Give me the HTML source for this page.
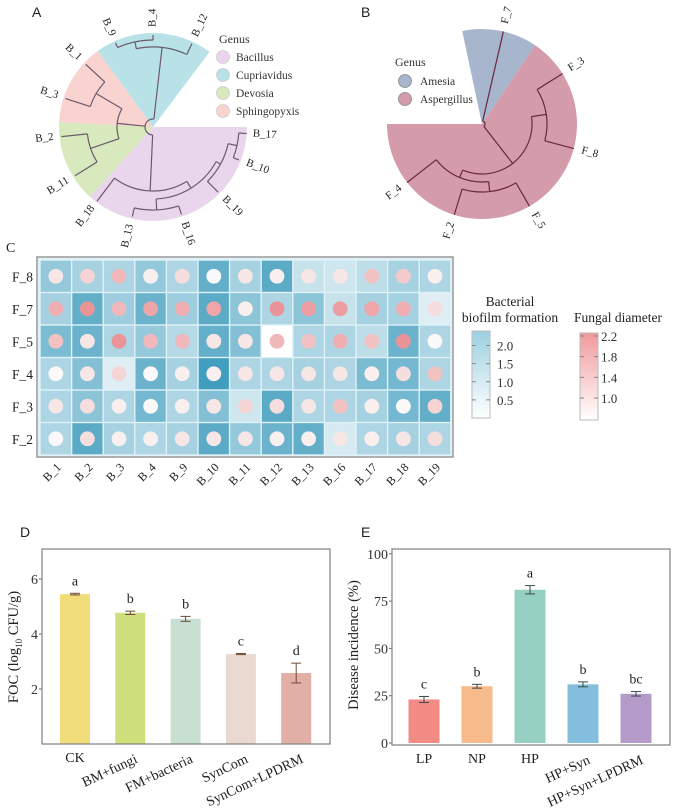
<!DOCTYPE html>
<html><head><meta charset="utf-8">
<style>
html,body{margin:0;padding:0;background:#fff;}
svg{display:block;font-family:"Liberation Serif",serif;}
.sans{font-family:"Liberation Sans",sans-serif;}
</style></head>
<body>
<svg id="fig" width="692" height="811" viewBox="0 0 692 811" xmlns="http://www.w3.org/2000/svg">
<g id="pA"></g>
<g id="pB"></g>
<g id="pC"></g>
<g id="pD"></g>
<g id="pE"></g>
</svg>
<script>
// ---------- DATA ----------
const heatRows = ["F_8","F_7","F_5","F_4","F_3","F_2"];
const heatCols = ["B_1","B_2","B_3","B_4","B_9","B_10","B_11","B_12","B_13","B_16","B_17","B_18","B_19"];
const biofilm = [
 [1.3,1.1,1.0,1.3,1.0,1.9,1.1,2.0,0.7,0.6,0.8,1.1,1.0],
 [1.1,1.9,1.2,1.8,1.2,2.0,1.4,1.0,1.4,0.7,1.1,1.1,0.4],
 [1.6,1.8,1.0,1.3,0.9,1.9,1.5,0.0,1.0,1.0,0.8,1.8,1.0],
 [1.0,1.5,0.4,1.8,1.1,2.3,1.0,1.0,1.1,1.0,1.6,1.7,1.0],
 [1.0,1.4,1.0,1.7,1.0,1.5,0.6,2.0,1.0,1.0,1.1,1.7,1.9],
 [1.0,2.0,1.1,1.0,1.1,2.0,1.3,1.8,1.9,0.5,1.0,1.1,1.0]];
const fungal = [
 [1.1,1.3,1.6,1.0,1.2,0.9,1.1,1.0,1.1,1.1,1.5,1.4,1.0],
 [1.7,2.0,1.6,1.8,1.7,1.8,1.0,2.0,1.9,1.9,1.8,1.7,1.2],
 [1.5,1.1,2.0,1.6,1.6,1.1,1.1,1.6,1.5,1.7,1.5,2.0,0.9],
 [0.9,1.1,1.3,0.9,1.0,1.0,1.1,1.1,1.1,1.1,1.0,1.2,1.5],
 [1.1,1.2,1.0,0.9,1.0,1.1,1.3,1.2,1.1,1.5,1.0,0.9,1.3],
 [0.9,1.2,1.0,1.0,1.1,1.1,1.1,1.0,1.0,1.1,1.0,1.1,1.2]];
const biofilmTicks = [2.0,1.5,1.0,0.5];
const fungalTicks = [2.2,1.8,1.4,1.0];

const dCats = ["CK","BM+fungi","FM+bacteria","SynCom","SynCom+LPDRM"];
const dVals = [5.45,4.77,4.55,3.27,2.58];
const dErr = [0.03,0.06,0.09,0.02,0.36];
const dLetters = ["a","b","b","c","d"];
const dTicks = [2,4,6];

const eCats = ["LP","NP","HP","HP+Syn","HP+Syn+LPDRM"];
const eVals = [23,30,81,31,26];
const eErr = [1.6,1.0,2.2,1.3,1.2];
const eLetters = ["c","b","a","b","bc"];
const eTicks = [0,25,50,75,100];

// ---------- helpers ----------
const NS="http://www.w3.org/2000/svg";
function mk(parent,tag,attrs,txt){const e=document.createElementNS(NS,tag);for(const k in attrs)e.setAttribute(k,attrs[k]);if(txt!==undefined)e.textContent=txt;parent.appendChild(e);return e;}
function pt(cx,cy,r,a){const t=a*Math.PI/180;return [cx+r*Math.cos(t),cy+r*Math.sin(t)];}
function sector(cx,cy,r,a1,a2){const p1=pt(cx,cy,r,a1),p2=pt(cx,cy,r,a2);const large=(a2-a1)>180?1:0;return `M${cx},${cy} L${p1[0]},${p1[1]} A${r},${r} 0 ${large} 1 ${p2[0]},${p2[1]} Z`;}
function arc(cx,cy,r,a1,a2){const p1=pt(cx,cy,r,a1),p2=pt(cx,cy,r,a2);const large=(a2-a1)>180?1:0;return `M${p1[0]},${p1[1]} A${r},${r} 0 ${large} 1 ${p2[0]},${p2[1]}`;}
function lerpC(c1,c2,t){t=Math.max(0,Math.min(1,t));const r=Math.round(c1[0]+(c2[0]-c1[0])*t),g=Math.round(c1[1]+(c2[1]-c1[1])*t),b=Math.round(c1[2]+(c2[2]-c1[2])*t);return `rgb(${r},${g},${b})`;}

// ---------- dendrogram ----------
function nodeAngle(n){if(n.leaf)return n.a;const as=n.c.map(nodeAngle);return (Math.min(...as)+Math.max(...as))/2;}
function drawTree(g,cx,cy,n,col){
  if(n.leaf)return;
  const as=n.c.map(nodeAngle);
  const p=mk(g,"path",{d:arc(cx,cy,n.h,Math.min(...as),Math.max(...as)),fill:"none",stroke:col,"stroke-width":1.2});
  
  
  n.c.forEach((ch,i)=>{const r2=ch.leaf?ch.r:ch.h;const a=as[i];const p1=pt(cx,cy,n.h,a),p2=pt(cx,cy,r2,a);
    const l=mk(g,"line",{x1:p1[0],y1:p1[1],x2:p2[0],y2:p2[1],stroke:col,"stroke-width":1.2});
    
    
    drawTree(g,cx,cy,ch,col);});
}
function leafLabels(g,cx,cy,n,rr){
  if(n.leaf){const p=pt(cx,cy,rr,n.a);let rot=n.a;let anchor="start";let aa=((n.a%360)+360)%360;if(aa>90&&aa<270){rot=aa+180;anchor="end";}
    const t=mk(g,"text",{x:p[0],y:p[1],"font-size":11,"text-anchor":anchor,"dominant-baseline":"middle",transform:`rotate(${rot},${p[0]},${p[1]})`,fill:"#222"},n.name);
    
    return;}
  n.c.forEach(c=>leafLabels(g,cx,cy,c,rr));
}
const L=(name,a,r)=>({leaf:true,name,a,r:r||92});

// Panel A
(function(){
  const g=document.getElementById("pA");const cx=153,cy=127,R=94;
  const secs=[[0,132,"#ead6ec","sector-bacillus"],[132,183,"#d8e9bd","sector-devosia"],[183,234,"#f9d3cf","sector-sphingopyxis"],[234,307,"#b8e2e7","sector-cupriavidus"]];
  secs.forEach(s=>{const p=mk(g,"path",{d:sector(cx,cy,R,s[0],s[1]),fill:s[2]});});
  const tree={h:8,c:[
    {h:64,c:[L("B_18",127,93),{h:72,c:[{h:83,c:[L("B_13",103),L("B_16",72)]},{h:77,c:[L("B_19",45),{h:86,c:[L("B_10",21),L("B_17",4,94)]}]}]}]},
    {h:36,c:[{h:66,c:[L("B_11",148),L("B_2",174)]},{h:66,c:[L("B_3",198),L("B_1",223)]}]},
    {h:80,c:[{h:87,c:[L("B_9",246),L("B_4",270)]},L("B_12",295)]}
  ]};
  drawTree(g,cx,cy,tree,"#6a5a6a");
  leafLabels(g,cx,cy,tree,100);
  const t=mk(g,"text",{x:32,y:17,"font-size":14,class:"sans",fill:"#222"},"A");
  mk(g,"text",{x:219,y:43,"font-size":12,fill:"#333"},"Genus");
  const gen=[["Bacillus","#ead6ec"],["Cupriavidus","#b8e2e7"],["Devosia","#d8e9bd"],["Sphingopyxis","#f9d3cf"]];
  gen.forEach((d,i)=>{const y=57+i*18;const c=mk(g,"circle",{cx:223,cy:y,r:6.5,fill:d[1],stroke:"#ccc","stroke-width":0.8});
    const tx=mk(g,"text",{x:236,y:y+4,"font-size":11.5,fill:"#333"},d[0]);});
})();

// Panel B
(function(){
  const g=document.getElementById("pB");const cx=482,cy=124,R=95;
  const p1=mk(g,"path",{d:sector(cx,cy,R,258,304),fill:"#a7b5cd"});
  const p2=mk(g,"path",{d:sector(cx,cy,R,304,540),fill:"#d49bab"});
  const tree={h:3,c:[L("F_7",283,95),{h:50,c:[{h:65,c:[L("F_3",328,95),L("F_8",375,95)]},{h:58,c:[{h:68,c:[L("F_5",420,95),L("F_2",467,95)]},L("F_4",502,95)]}]}]};
  drawTree(g,cx,cy,tree,"#6b2840");
  leafLabels(g,cx,cy,tree,103);
  const t=mk(g,"text",{x:361,y:17,"font-size":14,class:"sans",fill:"#222"},"B");
  mk(g,"text",{x:395,y:66,"font-size":12,fill:"#333"},"Genus");
  [["Amesia","#a7b5cd"],["Aspergillus","#d49bab"]].forEach((d,i)=>{const y=81+i*18;const c=mk(g,"circle",{cx:405,cy:y,r:6.5,fill:d[1],stroke:"#888","stroke-width":0.8});
    const tx=mk(g,"text",{x:420,y:y+4,"font-size":11.5,fill:"#333"},d[0]);});
})();

// Panel C heatmap
(function(){
  const g=document.getElementById("pC");
  const x0=40,y0=260,cw=31.6,ch=32.5;
  const blueHi=[58,154,188],white=[255,255,255],redHi=[232,130,134];
  const t=mk(g,"text",{x:6,y:252,"font-size":14,fill:"#222"},"C");
  mk(g,"rect",{x:37,y:257,width:416,height:200,fill:"#e0f2f8",stroke:"#999","stroke-width":1.5});
  heatRows.forEach((rn,i)=>{
    const ry=y0+i*ch;
    const lab=mk(g,"text",{x:33,y:ry+ch/2+5,"font-size":13.5,"text-anchor":"end",fill:"#222"},rn);
    
    heatCols.forEach((cn,j)=>{
      const cxp=x0+j*cw;
      const r=mk(g,"rect",{x:cxp+0.7,y:ry+0.7,width:cw-1.4,height:ch-1.4,fill:lerpC(white,blueHi,biofilm[i][j]/2.4)});
      
      const c=mk(g,"circle",{cx:cxp+cw/2,cy:ry+ch/2,r:7.4,fill:lerpC([250,248,248],redHi,(fungal[i][j]-0.9)/1.3)});
      
    });
  });
  heatCols.forEach((cn,j)=>{const x=x0+j*cw+cw/2+6,y=468;
    const tl=mk(g,"text",{x:x,y:y,"font-size":12,"text-anchor":"end",transform:`rotate(-45,${x},${y})`,fill:"#222"},cn);
    });
  mk(g,"defs",{}).innerHTML='<linearGradient id="gb" x1="0" y1="0" x2="0" y2="1"><stop offset="0" stop-color="#9bcfe0"/><stop offset="1" stop-color="#ffffff"/></linearGradient><linearGradient id="gr" x1="0" y1="0" x2="0" y2="1"><stop offset="0" stop-color="#f0999c"/><stop offset="1" stop-color="#ffffff"/></linearGradient>';
  mk(g,"text",{x:510,y:306,"font-size":13.5,"text-anchor":"middle",fill:"#222"},"Bacterial");
  mk(g,"text",{x:510,y:322,"font-size":13.5,"text-anchor":"middle",fill:"#222"},"biofilm formation");
  mk(g,"rect",{x:472,y:331,width:18,height:87,fill:"url(#gb)",stroke:"#bbb"});
  const by=v=>418-(v/2.4)*87;
  biofilmTicks.forEach(v=>{const y=by(v);mk(g,"line",{x1:486,x2:490,y1:y,y2:y,stroke:"#888"});mk(g,"line",{x1:472,x2:476,y1:y,y2:y,stroke:"#888"});
    mk(g,"text",{x:497,y:y+5,"font-size":13,fill:"#333"},v.toFixed(1));});
  mk(g,"text",{x:618,y:322,"font-size":13.5,"text-anchor":"middle",fill:"#222"},"Fungal diameter");
  mk(g,"rect",{x:580,y:333,width:18,height:87,fill:"url(#gr)",stroke:"#bbb"});
  const fy=v=>336+(2.2-v)/1.2*62;
  fungalTicks.forEach(v=>{const y=fy(v);mk(g,"line",{x1:594,x2:598,y1:y,y2:y,stroke:"#888"});mk(g,"line",{x1:580,x2:584,y1:y,y2:y,stroke:"#888"});
    mk(g,"text",{x:601,y:y+5,"font-size":13,fill:"#333"},v.toFixed(1));});
})();

// Bar charts
function barChart(gid,o){
  const g=document.getElementById(gid);
  const sy=v=>o.y0-(v-0)*o.k;
  const lt=mk(g,"text",{x:o.labX,y:o.labY,"font-size":14,class:"sans",fill:"#222"},o.label);
  o.cats.forEach((c,i)=>{
    const cx=o.cx0+i*o.step, v=o.vals[i], e=o.err[i];
    const b=mk(g,"rect",{x:cx-o.bw/2,y:sy(v),width:o.bw,height:o.y0-sy(v),fill:o.colors[i]});
    
    const ec=o.ecol;
    mk(g,"line",{x1:cx,x2:cx,y1:sy(v+e),y2:sy(v-e),stroke:ec,"stroke-width":1});
    mk(g,"line",{x1:cx-5,x2:cx+5,y1:sy(v+e),y2:sy(v+e),stroke:ec,"stroke-width":1});
    mk(g,"line",{x1:cx-5,x2:cx+5,y1:sy(v-e),y2:sy(v-e),stroke:ec,"stroke-width":1});
    const lt2=mk(g,"text",{x:cx,y:sy(v+e)-8,"font-size":14,"text-anchor":"middle",fill:"#222"},o.letters[i]);
    
    const rot=o.rot[i];const tx=cx+(rot?8:0),ty=o.yBot+18;
    const xl=mk(g,"text",{x:tx,y:ty,"font-size":14,"text-anchor":rot?"end":"middle",transform:rot?`rotate(${rot},${tx},${ty})`:"",fill:"#222"},c);
    
  });
  o.ticks.forEach(v=>{const y=sy(v);mk(g,"line",{x1:o.x1,x2:o.x1-3,y1:y,y2:y,stroke:"#666"});
    const t=mk(g,"text",{x:o.x1-4,y:y+5,"font-size":14,"text-anchor":"end",fill:"#333"},String(v));});
  const fr=mk(g,"rect",{x:o.x1,y:o.yTop,width:o.x2-o.x1,height:o.yBot-o.yTop,fill:"none",stroke:"#888","stroke-width":1.3});
  
  const yt=mk(g,"text",{x:o.ytX,y:o.ytY,"font-size":14.5,"text-anchor":"middle",transform:`rotate(-90,${o.ytX},${o.ytY})`,fill:"#222"});
  yt.innerHTML=o.ytitle;
}
barChart("pD",{cats:dCats,vals:dVals,err:dErr,letters:dLetters,ticks:dTicks,label:"D",labX:20,labY:537,
  x1:42,x2:330,yTop:549,yBot:744,y0:744,k:27.5,cx0:75,step:55.3,bw:30,
  colors:["#f1de7a","#cfdf7c","#c7e0d2","#ead9d0","#e2afa6"],ecol:"#6a4a3a",
  rot:[0,-25,-25,-25,-25],ytX:18,ytY:647,ytitle:'FOC (log<tspan font-size="9" dy="4">10</tspan><tspan dy="-4"> CFU/g)</tspan>'});
barChart("pE",{cats:eCats,vals:eVals,err:eErr,letters:eLetters,ticks:eTicks,label:"E",labX:361,labY:537,
  x1:392,x2:670,yTop:549,yBot:745,y0:743,k:1.892,cx0:424,step:53,bw:31,
  colors:["#f18b83","#f6ba8b","#96d0c2","#83bfdc","#b59bca"],ecol:"#3a4a4a",
  rot:[0,0,0,-25,-25],ytX:358,ytY:645,ytitle:'Disease incidence (%)'});
</script>
</body></html>
